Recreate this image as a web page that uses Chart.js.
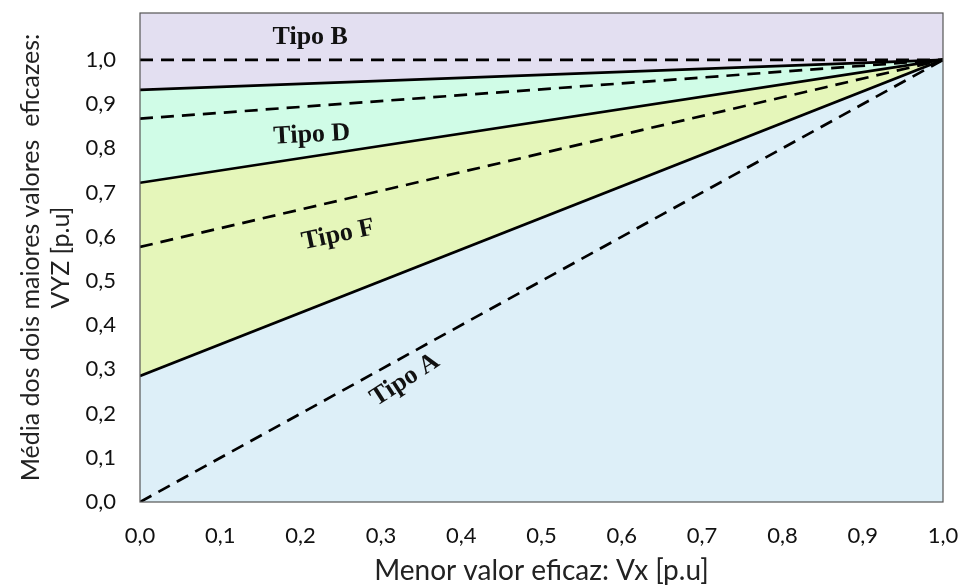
<!DOCTYPE html>
<html>
<head>
<meta charset="utf-8">
<script src="https://cdn.jsdelivr.net/npm/chart.js@4.4.1/dist/chart.umd.min.js"></script>
<style>
  html, body { margin: 0; padding: 0; background: #fff; }
  #wrap { width: 962px; height: 585px; }
</style>
</head>
<body>
<div id="wrap"><canvas id="chart" width="962" height="585"></canvas></div>
<script>
// x values of every boundary line (start, end)
const xEnds = [0, 1];
// boundary lines, y at x=0 and x=1
const solidB = [0.932, 1.0];   // upper limit of Tipo D
const dashB  = [1.0, 1.0];
const dashD  = [0.867, 1.0];
const solidD = [0.722, 1.0];   // upper limit of Tipo F
const dashF  = [0.577, 1.0];
const solidF = [0.285, 1.0];   // upper limit of Tipo A
const dashA  = [0.0, 1.0];

const xTicks = [0, 0.1, 0.2, 0.3, 0.4, 0.5, 0.6, 0.7, 0.8, 0.9, 1.0];
const yTicks = [0, 0.1, 0.2, 0.3, 0.4, 0.5, 0.6, 0.7, 0.8, 0.9, 1.0];

// region labels: text, x, y, angle (deg)
const regionNames  = ['Tipo B', 'Tipo D', 'Tipo F', 'Tipo A'];
const regionX      = [0.212, 0.214, 0.247, 0.33];
const regionY      = [1.05, 0.83, 0.604, 0.276];
const regionAngle  = [0, -3, -12, -33];

const pts = ys => xEnds.map((x, i) => ({ x: x, y: ys[i] }));

const solid = (ys, fill, bg) => ({
  data: pts(ys), borderColor: '#000', borderWidth: 2.7, pointRadius: 0,
  fill: fill, backgroundColor: bg, tension: 0
});
const dashed = ys => ({
  data: pts(ys), borderColor: '#000', borderWidth: 2.7, borderDash: [13, 8],
  pointRadius: 0, fill: false, tension: 0
});

const frame = {
  id: 'frame',
  afterDraw(chart) {
    const a = chart.chartArea, c = chart.ctx;
    c.save();
    c.strokeStyle = '#555';
    c.lineWidth = 1.2;
    c.strokeRect(a.left, a.top, a.right - a.left, a.bottom - a.top);
    c.restore();
  }
};

const labels = {
  id: 'labels',
  afterDatasetsDraw(chart) {
    const c = chart.ctx, sx = chart.scales.x, sy = chart.scales.y;
    c.save();
    c.font = 'bold 26px "Liberation Serif", "DejaVu Serif", serif';
    c.fillStyle = '#111';
    c.textAlign = 'center';
    c.textBaseline = 'middle';
    regionNames.forEach((t, i) => {
      c.save();
      c.translate(sx.getPixelForValue(regionX[i]), sy.getPixelForValue(regionY[i]));
      c.rotate(regionAngle[i] * Math.PI / 180);
      c.fillText(t, 0, 0);
      c.restore();
    });
    c.restore();
  }
};

new Chart(document.getElementById('chart'), {
  type: 'line',
  data: {
    datasets: [
      solid(solidB, 'end', '#E3DFF1'),   // 0 lavender above
      solid(solidD, 0, '#D0FCE7'),       // 1 mint
      solid(solidF, 1, '#E5F6BA'),       // 2 yellow-green
      { data: pts(solidF), borderWidth: 0, pointRadius: 0, fill: 'start', backgroundColor: '#DDEFF8' }, // 3 blue
      dashed(dashB),
      dashed(dashD),
      dashed(dashF),
      dashed(dashA)
    ]
  },
  options: {
    responsive: false,
    animation: false,
    layout: { padding: { top: 13, right: 19, left: 0, bottom: 0 } },
    plugins: {
      legend: { display: false }, tooltip: { enabled: false },
      filler: { drawTime: 'beforeDatasetsDraw' }
    },
    scales: {
      x: {
        type: 'linear', min: 0, max: 1,
        grid: { display: false }, border: { display: false },
        afterBuildTicks: s => { s.ticks = xTicks.map(v => ({ value: v })); },
        afterFit: s => { s.height = 83; s.paddingLeft = 0; s.paddingRight = 0; },
        ticks: {
          padding: 13, color: '#111', maxRotation: 0,
          font: { family: 'Lato, "Open Sans", sans-serif', size: 22 },
          callback: v => v.toFixed(1).replace('.', ',')
        },
        title: {
          display: true, text: 'Menor valor eficaz: Vx [p.u]', color: '#222',
          font: { family: 'Lato, "Open Sans", sans-serif', size: 28, lineHeight: 1.0 }, padding: { top: 4, bottom: 0 }
        }
      },
      y: {
        type: 'linear', min: 0, max: 1.106,
        grid: { display: false }, border: { display: false },
        afterBuildTicks: s => { s.ticks = yTicks.map(v => ({ value: v })); },
        afterFit: s => { s.width = 140; s.paddingTop = 0; s.paddingBottom = 0; },
        ticks: {
          padding: 16, color: '#111',
          font: { family: 'Lato, "Open Sans", sans-serif', size: 22 },
          callback: v => v.toFixed(1).replace('.', ',')
        },
        title: {
          display: true, text: ['Média dos dois maiores valores  eficazes:', 'VYZ [p.u]'], color: '#222',
          font: { family: 'Lato, "Open Sans", sans-serif', size: 25, lineHeight: 1.2 }, padding: { top: 16, bottom: 0 }
        }
      }
    }
  },
  plugins: [frame, labels]
});
</script>
</body>
</html>
